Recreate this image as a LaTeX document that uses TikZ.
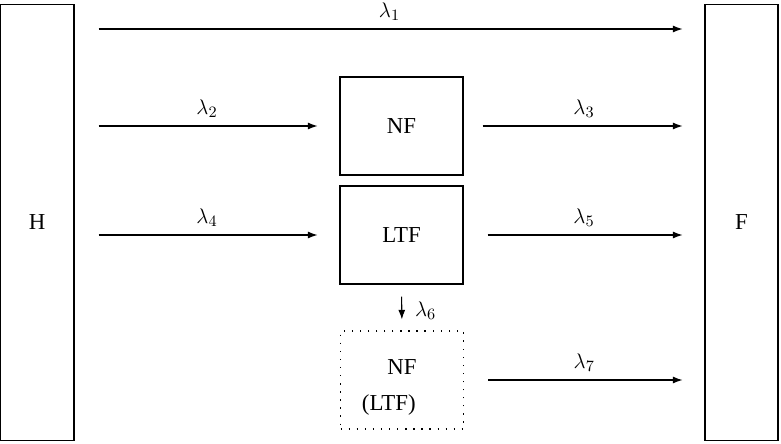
\documentclass[tikz,border=0pt]{standalone}
\usepackage{fontspec}
\setmainfont{Liberation Serif}
\usetikzlibrary{arrows.meta}

\begin{document}
\begin{tikzpicture}[x=0.02cm,y=-0.02cm,
  every node/.style={font=\fontsize{13}{15.5}\selectfont},
  side/.style={draw,line width=0.6pt,inner sep=0pt,minimum height=8.74cm},
  box/.style={draw,line width=0.6pt,inner sep=0pt,minimum width=2.46cm,minimum height=1.96cm},
  flow/.style={-{Latex[length=5.5pt,width=4pt]},line width=0.6pt,shorten <=0.48cm,shorten >=0.44cm}]
\useasboundingbox (0,0) rectangle (781,443);

\node[side,minimum width=1.48cm] (H) at (37,222.5) {H};
\node[side,minimum width=1.46cm] (F) at (741.5,222.5) {F};
\node[box] (nf) at (401.5,126) {NF};
\node[box] (ltf) at (401.5,235) {LTF};
\node[box,dash pattern=on 0.8pt off 3.8pt,align=center] (nfl) at (402,380) {\rule{0pt}{17pt}NF\\[5pt](LTF)\rule{15pt}{0pt}};

\coordinate (top) at (0,29);
\draw[flow] (H.east |- top) -- node[above=1pt] {$\lambda_1$} (F.west |- top);
\draw[flow] (H.east |- nf) -- node[above=1pt] {$\lambda_2$} (nf.west);
\draw[flow,shorten <=0.38cm] (nf.east) -- node[above=1pt] {$\lambda_3$} (F.west |- nf);
\draw[flow] (H.east |- ltf) -- node[above=1pt] {$\lambda_4$} (ltf.west);
\draw[flow] (ltf.east) -- node[above=1pt] {$\lambda_5$} (F.west |- ltf);
\draw[flow,shorten <=0.24cm,shorten >=0.22cm] (ltf.south) -- node[right=4pt,yshift=-2pt] {$\lambda_6$} (nfl.north);
\draw[flow] (nfl.east) -- node[above=1pt] {$\lambda_7$} (F.west |- nfl);
\end{tikzpicture}
\end{document}
